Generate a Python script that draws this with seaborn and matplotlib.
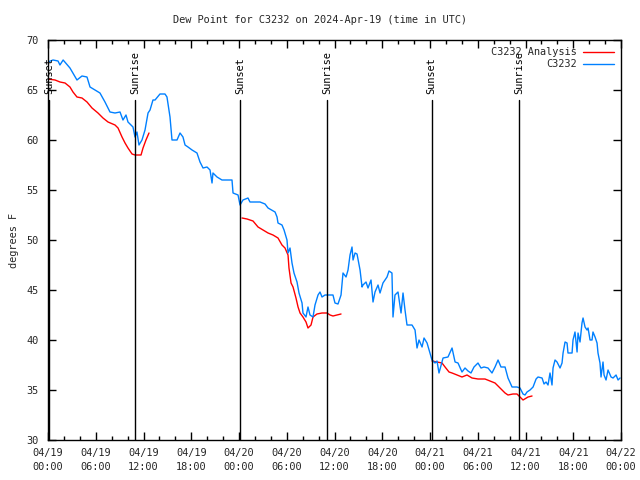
import numpy as np
import pandas as pd
import matplotlib
matplotlib.use("Agg")
import matplotlib.pyplot as plt
import seaborn as sns

# ---- data (hours since 2024-04-19 00:00 UTC, dew point in F) ----
obs_hours = [0.0, 0.63, 1.26, 1.5, 1.9, 2.76, 3.64, 4.27, 4.9, 5.28, 5.9, 6.53, 7.16, 7.79, 8.42,
             9.05, 9.42, 9.8, 10.05, 10.68, 10.93, 11.18, 11.43, 11.81, 12.19, 12.57, 12.82, 13.19,
             13.45, 14.07, 14.7, 14.95, 15.33, 15.58, 16.21, 16.59, 16.96, 17.22, 17.59, 18.1, 18.72,
             19.1, 19.48, 19.98, 20.36, 20.61, 20.73, 21.24, 21.86, 23.12, 23.25, 23.88, 24.13, 24.5,
             25.13, 25.38, 26.64, 27.27, 27.65, 28.53, 28.78, 28.9, 29.4, 29.66, 30.03, 30.16, 30.41,
             30.66, 30.91, 31.29, 31.54, 31.92, 32.04, 32.42, 32.67, 32.92, 33.3, 33.55, 33.93, 34.18,
             34.43, 34.81, 35.81, 36.06, 36.44, 36.82, 37.07, 37.45, 37.7, 37.95, 38.2, 38.33, 38.58,
             38.83, 39.21, 39.46, 39.58, 39.96, 40.21, 40.59, 40.84, 41.09, 41.47, 41.72, 42.09, 42.6,
             42.85, 43.22, 43.35, 43.6, 43.98, 44.36, 44.61, 44.86, 45.11, 45.74, 46.12, 46.37, 46.62,
             47.0, 47.25, 47.63, 47.88, 48.25, 48.63, 48.88, 49.13, 49.64, 50.26, 50.77, 51.15, 51.52,
             52.02, 52.4, 52.78, 53.15, 53.53, 54.03, 54.41, 54.79, 55.29, 55.79, 56.17, 56.55, 56.92,
             57.43, 57.8, 58.31, 58.93, 59.31, 59.69, 59.94, 60.19, 60.57, 60.95, 61.33, 61.57, 62.08,
             62.33, 62.58, 62.83, 63.08, 63.33, 63.46, 63.71, 63.96, 64.34, 64.59, 64.72, 64.97, 65.22,
             65.34, 65.85, 65.97, 66.22, 66.48, 66.6, 66.85, 67.1, 67.23, 67.48, 67.73, 67.86, 68.11,
             68.36, 68.48, 68.74, 68.99, 69.11, 69.36, 69.49, 69.74, 69.87, 70.12, 70.37, 70.75, 71.0,
             71.38, 71.63, 71.88]
obs_dewpt = [67.8, 68.0, 67.9, 67.5, 68.0, 67.2, 66.0, 66.4, 66.3, 65.3, 65.0, 64.7, 63.8, 62.8, 62.7,
             62.8, 62.0, 62.5, 61.8, 61.3, 60.3, 60.8, 59.5, 60.0, 61.0, 62.7, 63.0, 64.0,
             64.0, 64.6, 64.6, 64.3, 62.3, 60.0, 60.0, 60.7, 60.3, 59.5, 59.3, 59.0, 58.7,
             57.8, 57.2, 57.3, 57.0, 55.7, 56.7, 56.3, 56.0, 56.0, 54.7, 54.5, 53.5, 54.0,
             54.2, 53.8, 53.8, 53.6, 53.2, 52.8, 52.3, 51.7, 51.5, 51.0, 50.0, 48.7, 49.2,
             47.7, 46.7, 45.8, 44.7, 43.7, 42.7, 42.3, 43.3, 42.5, 42.3, 43.5, 44.5, 44.8,
             44.3, 44.5, 44.5, 43.7, 43.6, 44.5, 46.7, 46.3, 47.0, 48.5, 49.3, 48.0, 48.7,
             48.6, 47.0, 45.3, 45.5, 45.8, 45.2, 46.0, 43.8, 44.8, 45.5, 44.7, 45.7, 46.3,
             46.9, 46.7, 42.3, 44.5, 44.8, 42.7, 44.7, 43.0, 41.5, 41.5, 41.0, 39.2, 40.0,
             39.3, 40.2, 39.7, 39.0, 38.0, 37.7, 37.9, 36.7, 38.2, 38.3, 39.2, 37.8, 37.7,
             36.8, 37.2, 36.9, 36.7, 37.3, 37.7, 37.2, 37.3, 37.2, 36.7, 37.3, 38.0, 37.3,
             37.3, 36.2, 35.3, 35.3, 35.2, 34.6, 34.5, 34.8, 35.0, 35.3, 36.1, 36.3, 36.2,
             35.6, 35.8, 35.5, 36.7, 35.5, 37.2, 38.0, 37.8, 37.2, 37.7, 38.7, 39.8, 39.7,
             38.7, 38.7, 40.0, 40.8, 38.8, 40.7, 39.8, 41.7, 42.2, 41.3, 41.0, 41.2, 40.0,
             40.0, 40.8, 40.3, 39.7, 38.7, 37.7, 36.3, 37.8, 36.5, 36.0, 37.0, 36.3, 36.2,
             36.5, 36.0, 36.2]

ana_hours_1 = [0.0, 0.88, 1.51, 2.14, 2.76, 3.14, 3.64, 4.27, 4.9, 5.53, 6.28, 6.91, 7.54, 8.42,
               8.8, 9.3, 9.68, 10.05, 10.56, 10.93, 11.69, 11.94, 12.31, 12.69]
ana_dewpt_1 = [66.1, 66.0, 65.8, 65.7, 65.3, 64.8, 64.3, 64.2, 63.8, 63.2, 62.7, 62.2, 61.8, 61.5,
               61.2, 60.3, 59.7, 59.2, 58.6, 58.5, 58.5, 59.2, 60.0, 60.7]
ana_hours_2 = [24.38, 25.01, 25.76, 26.39, 27.02, 27.65, 28.27, 28.9, 29.4, 29.78, 30.16, 30.28,
               30.54, 30.79, 31.16, 31.42, 31.67, 32.04, 32.42, 32.67, 33.05, 33.3, 33.8, 34.43,
               35.06, 35.44, 35.81, 36.31, 36.82]
ana_dewpt_2 = [52.2, 52.1, 51.9, 51.3, 51.0, 50.7, 50.5, 50.2, 49.5, 49.2, 48.5, 47.2,
               45.7, 45.3, 44.2, 43.3, 42.7, 42.3, 41.8, 41.2, 41.5, 42.3, 42.6, 42.7,
               42.7, 42.5, 42.4, 42.5, 42.6]
ana_hours_3 = [48.25, 48.88, 49.51, 49.89, 50.39, 50.77, 51.4, 52.02, 52.65, 53.28, 54.03, 54.91,
               55.54, 56.17, 56.8, 57.43, 57.8, 58.43, 58.93, 59.31, 59.69, 60.32, 60.82]
ana_dewpt_3 = [37.9, 37.8, 37.7, 37.3, 36.8, 36.7, 36.5, 36.3, 36.5, 36.2, 36.1, 36.1,
               35.9, 35.7, 35.2, 34.7, 34.5, 34.6, 34.6, 34.3, 34.0, 34.3, 34.4]

sun_hours = [0.1, 10.93, 24.1, 35.05, 48.2, 59.2]
sun_labels = ["Sunset", "Sunrise", "Sunset", "Sunrise", "Sunset", "Sunrise"]

xtick_hours = [0, 6, 12, 18, 24, 30, 36, 42, 48, 54, 60, 66, 72]
xtick_labels = ["04/19\n00:00", "04/19\n06:00", "04/19\n12:00", "04/19\n18:00",
                "04/20\n00:00", "04/20\n06:00", "04/20\n12:00", "04/20\n18:00",
                "04/21\n00:00", "04/21\n06:00", "04/21\n12:00", "04/21\n18:00",
                "04/22\n00:00"]
ytick_vals = [30, 35, 40, 45, 50, 55, 60, 65, 70]

title = "Dew Point for C3232 on 2024-Apr-19 (time in UTC)"
ylabel = "degrees F"
ana_name = "C3232 Analysis"
obs_name = "C3232"

RED = "#ff0000"
BLUE = "#0080ff"
FS = 7.4

# ---- plot ----
sns.set_theme(style="ticks")
plt.rcParams["font.family"] = ["DejaVu Sans Mono", "DejaVu Sans"]
plt.rcParams["font.size"] = FS

fig = plt.figure(figsize=(6.4, 4.8), dpi=100)
ax = fig.add_axes([48 / 640, 40 / 480, (621 - 48) / 640, 400 / 480])

segments = [(ana_hours_1, ana_dewpt_1), (ana_hours_2, ana_dewpt_2), (ana_hours_3, ana_dewpt_3)]
for i, (h, v) in enumerate(segments):
    df_a = pd.DataFrame({"hours": h, "dewpt": v})
    sns.lineplot(data=df_a, x="hours", y="dewpt", ax=ax, color=RED, linewidth=1.0,
                 estimator=None, sort=False, label=ana_name if i == 0 else None)

df_o = pd.DataFrame({"hours": obs_hours, "dewpt": obs_dewpt})
sns.lineplot(data=df_o, x="hours", y="dewpt", ax=ax, color=BLUE, linewidth=1.0,
             estimator=None, sort=False, label=obs_name)

for h, lab in zip(sun_hours, sun_labels):
    ax.plot([h, h], [30, 64], color="black", linewidth=1.0)
    ax.text(h, 64.6, lab, rotation=90, ha="center", va="bottom", fontsize=FS, color="black")

ax.set_xlim(0, 72)
ax.set_ylim(30, 70)
ax.set_xticks(xtick_hours)
ax.set_xticklabels(xtick_labels, linespacing=1.45)
ax.set_xticks(np.arange(0, 73, 2), minor=True)
ax.set_yticks(ytick_vals)
ax.set_yticklabels([str(v) for v in ytick_vals])
ax.tick_params(which="both", direction="in", top=True, right=True, labelsize=FS, color="black")
ax.tick_params(which="major", length=6, width=1)
ax.tick_params(axis="x", which="major", pad=6)
ax.tick_params(axis="y", which="major", pad=7)
ax.tick_params(which="minor", length=3, width=1)
for s in ax.spines.values():
    s.set_color("black")
    s.set_linewidth(1.0)

ax.set_xlabel("")
ax.set_ylabel(ylabel, fontsize=FS, labelpad=5)
fig.text(0.5, 1 - 20 / 480, title, ha="center", va="center", fontsize=FS)

leg = ax.legend(loc="upper right", frameon=False, markerfirst=False, fontsize=FS,
                handlelength=3.0, borderaxespad=0.3, labelspacing=0.2, handletextpad=0.6)
for t in leg.get_texts():
    t.set_ha("right")

fig.savefig("out.png", dpi=100, facecolor="white")
